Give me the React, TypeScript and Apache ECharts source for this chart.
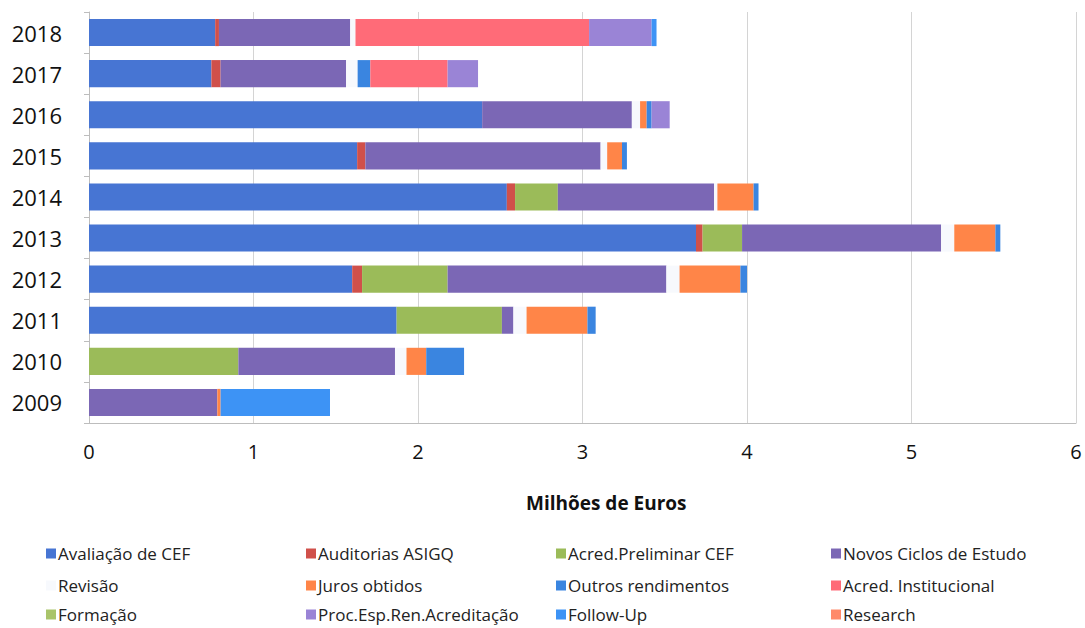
import React, { useEffect, useRef } from "react";
import * as echarts from "echarts";

const years = ["2009", "2010", "2011", "2012", "2013", "2014", "2015", "2016", "2017", "2018"];
const xTicks = [0, 1, 2, 3, 4, 5, 6];

const avaliacaoCEF = [0, 0, 1.87, 1.6, 3.69, 2.54, 1.63, 2.39, 0.744, 0.767];
const auditoriasASIGQ = [0, 0, 0, 0.06, 0.04, 0.05, 0.05, 0, 0.056, 0.023];
const acredPreliminarCEF = [0, 0.908, 0.64, 0.52, 0.24, 0.26, 0, 0, 0, 0];
const novosCiclos = [0.78, 0.952, 0.07, 1.33, 1.21, 0.95, 1.43, 0.91, 0.763, 0.798];
const revisao = [0, 0.07, 0.08, 0.08, 0.08, 0.02, 0.04, 0.05, 0.07, 0.032];
const jurosObtidos = [0.02, 0.12, 0.37, 0.37, 0.25, 0.22, 0.09, 0.04, 0, 0];
const outrosRendimentos = [0, 0.23, 0.05, 0.04, 0.03, 0.03, 0.03, 0.03, 0.077, 0];
const acredInstitucional = [0, 0, 0, 0, 0, 0, 0, 0, 0.47, 1.42];
const formacao = [0, 0, 0, 0, 0, 0, 0, 0, 0, 0];
const procEsp = [0, 0, 0, 0, 0, 0, 0, 0.11, 0.185, 0.38];
const followUp = [0.665, 0, 0, 0, 0, 0, 0, 0, 0, 0.03];
const research = [0, 0, 0, 0, 0, 0, 0, 0, 0, 0];

const seriesDefs = [
  { name: "Avaliação de CEF", data: avaliacaoCEF, color: "#4775d3" },
  { name: "Auditorias ASIGQ", data: auditoriasASIGQ, color: "#d0504a" },
  { name: "Acred.Preliminar CEF", data: acredPreliminarCEF, color: "#9bbb59" },
  { name: "Novos Ciclos de Estudo", data: novosCiclos, color: "#7b67b5" },
  { name: "Revisão", data: revisao, color: "#f7f9fd" },
  { name: "Juros obtidos", data: jurosObtidos, color: "#ff8548" },
  { name: "Outros rendimentos", data: outrosRendimentos, color: "#3a85e0" },
  { name: "Acred. Institucional", data: acredInstitucional, color: "#ff6b78" },
  { name: "Formação", data: formacao, color: "#a9c46a" },
  { name: "Proc.Esp.Ren.Acreditação", data: procEsp, color: "#9a84d6" },
  { name: "Follow-Up", data: followUp, color: "#3d93f5" },
  { name: "Research", data: research, color: "#ff8a6a" },
];

const legendCols = [
  ["Avaliação de CEF", "Revisão", "Formação"],
  ["Auditorias ASIGQ", "Juros obtidos", "Proc.Esp.Ren.Acreditação"],
  ["Acred.Preliminar CEF", "Outros rendimentos", "Follow-Up"],
  ["Novos Ciclos de Estudo", "Acred. Institucional", "Research"],
];
const legendLefts = [46, 306, 556, 831];
const legendTops = [545, 577, 606];

export default function App() {
  const ref = useRef<HTMLDivElement>(null);
  useEffect(() => {
    if (!ref.current) return;
    const chart = echarts.init(ref.current, null, { renderer: "svg" });
    const font = "'Open Sans', 'DejaVu Sans', sans-serif";
    const legends: any[] = [];
    legendCols.forEach((col, ci) => {
      col.forEach((name, ri) => {
        legends.push({
          data: [name],
          orient: "horizontal",
          left: legendLefts[ci],
          top: legendTops[ri],
          padding: 0,
          itemWidth: 10,
          itemHeight: 10,
          icon: "rect",
          selectedMode: false,
          textStyle: { color: "#222", fontSize: 17, fontFamily: font, padding: [0, 0, 0, -3] },
        });
      });
    });
    chart.setOption({
      animation: false,
      backgroundColor: "#ffffff",
      grid: { left: 89, right: 9, top: 12, bottom: 205, containLabel: false },
      xAxis: {
        type: "value",
        min: xTicks[0],
        max: xTicks[xTicks.length - 1],
        interval: 1,
        axisLine: { show: true, lineStyle: { color: "#bdbdbd", width: 1 } },
        axisTick: { show: false },
        splitLine: { show: true, lineStyle: { color: "#d4d4d4", width: 1 } },
        axisLabel: { color: "#111", fontSize: 20, fontFamily: font, margin: 18 },
      },
      yAxis: {
        type: "category",
        data: years,
        axisLine: { show: true, lineStyle: { color: "#bdbdbd", width: 1 } },
        axisTick: { show: true, length: 5, lineStyle: { color: "#bdbdbd" } },
        splitLine: { show: false },
        axisLabel: { color: "#111", fontSize: 22, fontFamily: font, margin: 27 },
      },
      legend: legends,
      graphic: [
        {
          type: "text",
          left: 623 - 97,
          top: 493,
          style: {
            text: "Milhões de Euros",
            fill: "#111",
            font: `bold 19px ${font}`,
          },
        },
      ],
      series: seriesDefs.map((s) => ({
        name: s.name,
        type: "bar",
        stack: "total",
        data: s.data,
        barCategoryGap: "34%",
        itemStyle: { color: s.color },
        emphasis: { disabled: true },
      })),
    });
    return () => chart.dispose();
  }, []);
  return (
    <div
      ref={ref}
      style={{ position: "fixed", left: 0, top: 0, width: 1085, height: 628 }}
    />
  );
}
